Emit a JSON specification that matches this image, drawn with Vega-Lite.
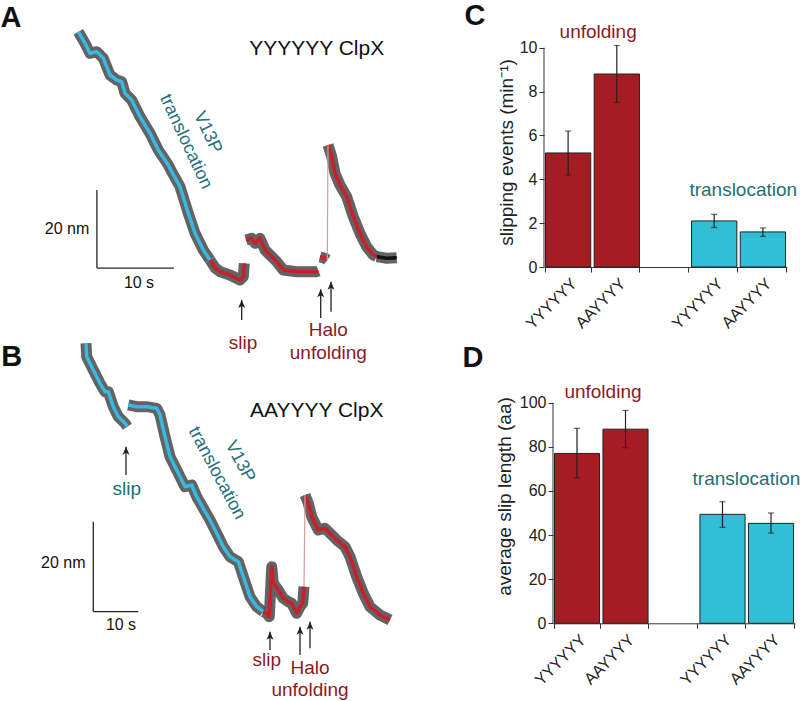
{
  "$schema": "https://vega.github.io/schema/vega-lite/v6.json",
  "padding": 0,
  "columns": 2,
  "spacing": {"row": 0, "column": 44},
  "bounds": "flush",
  "align": "all",
  "resolve": {"scale": {"color": "independent"}},
  "config": {
    "view": {"stroke": null},
    "font": "Liberation Sans",
    "axis": {"labelColor": "#222", "tickColor": "#333", "domainColor": "#333", "titleColor": "#222", "titleFontWeight": "normal", "grid": false}
  },
  "datasets": {
    "traceA": [
      {"t":10.18,"nm":78.89,"seg":"a1","phase":"translocation"},{"t":11.05,"nm":75.92,"seg":"a1","phase":"translocation"},{"t":11.70,"nm":73.36,"seg":"a1","phase":"translocation"},{"t":12.57,"nm":73.77,"seg":"a1","phase":"translocation"},{"t":13.43,"nm":72.08,"seg":"a1","phase":"translocation"},{"t":14.30,"nm":67.81,"seg":"a1","phase":"translocation"},{"t":15.17,"nm":66.53,"seg":"a1","phase":"translocation"},{"t":15.82,"nm":66.10,"seg":"a1","phase":"translocation"},{"t":16.25,"nm":63.13,"seg":"a1","phase":"translocation"},{"t":17.12,"nm":61.41,"seg":"a1","phase":"translocation"},{"t":18.20,"nm":57.14,"seg":"a1","phase":"translocation"},{"t":19.50,"nm":52.89,"seg":"a1","phase":"translocation"},{"t":20.58,"nm":48.62,"seg":"a1","phase":"translocation"},{"t":21.88,"nm":44.78,"seg":"a1","phase":"translocation"},{"t":22.32,"nm":43.07,"seg":"a1","phase":"translocation"},{"t":23.40,"nm":39.23,"seg":"a1","phase":"translocation"},{"t":24.48,"nm":32.42,"seg":"a1","phase":"translocation"},{"t":25.35,"nm":27.30,"seg":"a1","phase":"translocation"},{"t":26.43,"nm":23.03,"seg":"a1","phase":"translocation"},{"t":27.30,"nm":20.47,"seg":"a1","phase":"translocation"},
      {"t":27.30,"nm":20.47,"seg":"a2","phase":"unfolding"},{"t":28.00,"nm":18.40,"seg":"a2","phase":"unfolding"},{"t":28.60,"nm":17.48,"seg":"a2","phase":"unfolding"},{"t":29.90,"nm":16.63,"seg":"a2","phase":"unfolding"},{"t":31.20,"nm":15.35,"seg":"a2","phase":"unfolding"},{"t":31.63,"nm":16.20,"seg":"a2","phase":"unfolding"},{"t":31.76,"nm":19.63,"seg":"a2","phase":"unfolding"},
      {"t":31.98,"nm":25.59,"seg":"a3","phase":"unfolding"},{"t":32.72,"nm":26.02,"seg":"a3","phase":"unfolding"},{"t":33.15,"nm":24.74,"seg":"a3","phase":"unfolding"},{"t":33.80,"nm":26.02,"seg":"a3","phase":"unfolding"},{"t":34.45,"nm":23.03,"seg":"a3","phase":"unfolding"},{"t":35.10,"nm":21.75,"seg":"a3","phase":"unfolding"},{"t":35.97,"nm":20.04,"seg":"a3","phase":"unfolding"},{"t":36.83,"nm":17.91,"seg":"a3","phase":"unfolding"},{"t":38.57,"nm":17.48,"seg":"a3","phase":"unfolding"},{"t":41.17,"nm":17.48,"seg":"a3","phase":"unfolding"},{"t":41.40,"nm":17.66,"seg":"a3","phase":"unfolding"},
      {"t":41.60,"nm":21.24,"seg":"a4","phase":"unfolding"},{"t":42.25,"nm":20.91,"seg":"a4","phase":"unfolding"},{"t":42.55,"nm":20.47,"seg":"a4","phase":"unfolding"},
      {"t":42.64,"nm":49.90,"seg":"a5","phase":"unfolding"},{"t":43.12,"nm":46.90,"seg":"a5","phase":"unfolding"},{"t":43.55,"nm":42.66,"seg":"a5","phase":"unfolding"},{"t":44.20,"nm":39.66,"seg":"a5","phase":"unfolding"},{"t":45.07,"nm":36.67,"seg":"a5","phase":"unfolding"},{"t":45.93,"nm":31.55,"seg":"a5","phase":"unfolding"},{"t":46.80,"nm":27.30,"seg":"a5","phase":"unfolding"},{"t":47.67,"nm":23.87,"seg":"a5","phase":"unfolding"},{"t":48.53,"nm":21.75,"seg":"a5","phase":"unfolding"},{"t":48.97,"nm":21.32,"seg":"a5","phase":"unfolding"},
      {"t":48.97,"nm":21.32,"seg":"a6","phase":"released"},{"t":50.27,"nm":20.91,"seg":"a6","phase":"released"},{"t":51.57,"nm":21.06,"seg":"a6","phase":"released"}
    ],
    "jumpA": [{"t":42.55,"nm":20.47,"j":"ja"},{"t":42.64,"nm":49.90,"j":"ja"}],
    "annA": [
      {"label":"A","t":1.43,"nm":82.4,"role":"letter"},
      {"label":"YYYYYY ClpX","t":41.17,"nm":74.39,"role":"name"},
      {"label":"V13P","t":26.98,"nm":53.1,"role":"v13p"},
      {"label":"translocation","t":24.15,"nm":50.74,"role":"v13p"},
      {"label":"20 nm","t":8.71,"nm":28.4,"role":"scale"},
      {"label":"10 s","t":18.07,"nm":14.59,"role":"scale"},
      {"label":"slip","t":31.59,"nm":-0.77,"role":"event_u"},
      {"label":"Halo","t":42.68,"nm":2.56,"role":"event_u"},
      {"label":"unfolding","t":42.68,"nm":-3.4,"role":"event_u"}
    ],
    "arrowA": [{"t":31.42,"tip":10.24,"tail":5.12},{"t":41.69,"tip":12.97,"tail":5.63},{"t":43.03,"tip":14.92,"tail":7.24}],
    "barA": [{"t":12.6,"t2":12.6,"nm":18.4,"nm2":38.4},{"t":12.6,"t2":22.6,"nm":18.4,"nm2":18.4}],
    "traceB": [
      {"t":19.11,"nm":79.27,"seg":"b1","phase":"translocation"},{"t":19.27,"nm":76.29,"seg":"b1","phase":"translocation"},{"t":20.73,"nm":73.33,"seg":"b1","phase":"translocation"},{"t":22.22,"nm":70.38,"seg":"b1","phase":"translocation"},{"t":23.33,"nm":68.51,"seg":"b1","phase":"translocation"},{"t":24.07,"nm":68.51,"seg":"b1","phase":"translocation"},{"t":25.18,"nm":65.18,"seg":"b1","phase":"translocation"},{"t":26.29,"nm":62.96,"seg":"b1","phase":"translocation"},{"t":27.78,"nm":61.49,"seg":"b1","phase":"translocation"},{"t":28.29,"nm":60.73,"seg":"b1","phase":"translocation"},
      {"t":28.51,"nm":65.56,"seg":"b2","phase":"translocation"},{"t":30.38,"nm":65.18,"seg":"b2","phase":"translocation"},{"t":32.60,"nm":65.18,"seg":"b2","phase":"translocation"},{"t":34.82,"nm":64.82,"seg":"b2","phase":"translocation"},{"t":35.56,"nm":63.33,"seg":"b2","phase":"translocation"},{"t":36.67,"nm":58.51,"seg":"b2","phase":"translocation"},{"t":37.78,"nm":54.07,"seg":"b2","phase":"translocation"},{"t":39.27,"nm":51.11,"seg":"b2","phase":"translocation"},{"t":41.11,"nm":47.40,"seg":"b2","phase":"translocation"},{"t":42.60,"nm":47.78,"seg":"b2","phase":"translocation"},{"t":43.71,"nm":45.18,"seg":"b2","phase":"translocation"},{"t":45.18,"nm":42.60,"seg":"b2","phase":"translocation"},{"t":46.67,"nm":40.00,"seg":"b2","phase":"translocation"},{"t":48.16,"nm":37.04,"seg":"b2","phase":"translocation"},{"t":49.62,"nm":34.07,"seg":"b2","phase":"translocation"},{"t":51.11,"nm":31.84,"seg":"b2","phase":"translocation"},{"t":52.96,"nm":30.73,"seg":"b2","phase":"translocation"},{"t":54.07,"nm":27.40,"seg":"b2","phase":"translocation"},{"t":55.56,"nm":22.96,"seg":"b2","phase":"translocation"},{"t":57.04,"nm":20.73,"seg":"b2","phase":"translocation"},{"t":58.51,"nm":19.62,"seg":"b2","phase":"translocation"},
      {"t":58.51,"nm":19.62,"seg":"b3","phase":"unfolding"},{"t":59.27,"nm":19.27,"seg":"b3","phase":"unfolding"},{"t":59.84,"nm":18.51,"seg":"b3","phase":"unfolding"},{"t":60.38,"nm":29.62,"seg":"b3","phase":"unfolding"},{"t":60.73,"nm":25.93,"seg":"b3","phase":"unfolding"},{"t":61.84,"nm":24.44,"seg":"b3","phase":"unfolding"},{"t":62.96,"nm":22.60,"seg":"b3","phase":"unfolding"},{"t":64.07,"nm":21.84,"seg":"b3","phase":"unfolding"},{"t":64.82,"nm":21.49,"seg":"b3","phase":"unfolding"},{"t":65.93,"nm":19.27,"seg":"b3","phase":"unfolding"},{"t":66.67,"nm":20.73,"seg":"b3","phase":"unfolding"},{"t":67.27,"nm":21.49,"seg":"b3","phase":"unfolding"},{"t":67.56,"nm":25.18,"seg":"b3","phase":"unfolding"},
      {"t":67.78,"nm":45.56,"seg":"b4","phase":"unfolding"},{"t":68.51,"nm":43.71,"seg":"b4","phase":"unfolding"},{"t":69.27,"nm":40.73,"seg":"b4","phase":"unfolding"},{"t":70.73,"nm":37.78,"seg":"b4","phase":"unfolding"},{"t":72.22,"nm":38.16,"seg":"b4","phase":"unfolding"},{"t":73.71,"nm":36.67,"seg":"b4","phase":"unfolding"},{"t":74.82,"nm":35.56,"seg":"b4","phase":"unfolding"},{"t":76.67,"nm":34.07,"seg":"b4","phase":"unfolding"},{"t":77.78,"nm":31.84,"seg":"b4","phase":"unfolding"},{"t":79.27,"nm":27.40,"seg":"b4","phase":"unfolding"},{"t":80.73,"nm":23.71,"seg":"b4","phase":"unfolding"},{"t":82.22,"nm":20.73,"seg":"b4","phase":"unfolding"},{"t":84.44,"nm":18.89,"seg":"b4","phase":"unfolding"},{"t":86.67,"nm":17.78,"seg":"b4","phase":"unfolding"}
    ],
    "jumpB": [{"t":67.56,"nm":25.18,"j":"jb"},{"t":67.78,"nm":45.56,"j":"jb"}],
    "annB": [
      {"label":"B","t":2.6,"nm":76.29,"role":"letter"},
      {"label":"AAYYYY ClpX","t":70.38,"nm":64.29,"role":"name"},
      {"label":"V13P","t":53.33,"nm":52.96,"role":"v13p"},
      {"label":"translocation","t":48.16,"nm":50.38,"role":"v13p"},
      {"label":"20 nm","t":14.07,"nm":30.38,"role":"scale"},
      {"label":"10 s","t":26.89,"nm":16.67,"role":"scale"},
      {"label":"slip","t":28.16,"nm":46.82,"role":"event_t"},
      {"label":"slip","t":59.27,"nm":8.89,"role":"event_u"},
      {"label":"Halo","t":68.89,"nm":7.04,"role":"event_u"},
      {"label":"unfolding","t":68.89,"nm":2.22,"role":"event_u"}
    ],
    "arrowB": [{"t":28,"tip":56.29,"tail":50.0},{"t":60,"tip":15.18,"tail":11.11},{"t":66.67,"tip":16.29,"tail":10},{"t":68.89,"tip":17.4,"tail":11.49}],
    "barB": [{"t":20.73,"t2":20.73,"nm":19.62,"nm2":39.62},{"t":20.73,"t2":30.73,"nm":19.62,"nm2":19.62}],
    "rateC": [
      {"cat":"YYYYYY|u","group":"unfolding","v":5.2,"lo":4.2,"hi":6.2},
      {"cat":"AAYYYY|u","group":"unfolding","v":8.8,"lo":7.5,"hi":10.1},
      {"cat":"YYYYYY|t","group":"translocation","v":2.1,"lo":1.8,"hi":2.4},
      {"cat":"AAYYYY|t","group":"translocation","v":1.6,"lo":1.4,"hi":1.78}
    ],
    "annC": [
      {"label":"C","cat":"YYYYYY|u","v":11.45,"role":"letter"},
      {"label":"unfolding","cat":"AAYYYY|u","v":10.72,"role":"unf"},
      {"label":"translocation","cat":"AAYYYY|t","v":3.51,"role":"tr"}
    ],
    "axisC": [{"lo":0,"hi":10}],
    "lenD": [
      {"cat":"YYYYYY|u","group":"unfolding","v":77,"lo":66,"hi":88.4},
      {"cat":"AAYYYY|u","group":"unfolding","v":88,"lo":79.6,"hi":96.5},
      {"cat":"YYYYYY|t","group":"translocation","v":49.4,"lo":43.5,"hi":55.1},
      {"cat":"AAYYYY|t","group":"translocation","v":45.3,"lo":40.9,"hi":50.0}
    ],
    "annD": [
      {"label":"D","cat":"YYYYYY|u","v":120.3,"role":"letter"},
      {"label":"unfolding","cat":"AAYYYY|u","v":105.0,"role":"unf"},
      {"label":"translocation","cat":"AAYYYY|t","v":65.3,"role":"tr"}
    ],
    "axisD": [{"lo":0,"hi":100}]
  },
  "concat": [
    {
      "width": 500, "height": 340,
      "layer": [
        {"data": {"name": "traceA"}, "mark": {"type": "line", "strokeWidth": 11, "color": "#525252", "opacity": 0.9, "strokeJoin": "round"},
         "encoding": {"x": {"field": "t", "type": "quantitative", "scale": {"domain": [0, 65], "nice": false, "zero": false}, "axis": null},
                      "y": {"field": "nm", "type": "quantitative", "scale": {"domain": [0, 87], "nice": false, "zero": false}, "axis": null},
                      "detail": {"field": "seg"}}},
        {"data": {"name": "traceA"}, "mark": {"type": "line", "strokeWidth": 3.5, "strokeJoin": "round"},
         "encoding": {"x": {"field": "t", "type": "quantitative"}, "y": {"field": "nm", "type": "quantitative"},
                      "color": {"field": "phase", "type": "nominal", "scale": {"domain": ["translocation", "unfolding", "released"], "range": ["#38b9e2", "#c8202b", "#111111"]}, "legend": null},
                      "detail": {"field": "seg"}}},
        {"data": {"name": "jumpA"}, "mark": {"type": "line", "strokeWidth": 1.2, "color": "#d49ca1"},
         "encoding": {"x": {"field": "t", "type": "quantitative"}, "y": {"field": "nm", "type": "quantitative"}, "detail": {"field": "j"}}},
        {"data": {"name": "barA"}, "mark": {"type": "rule", "color": "#222", "strokeWidth": 1.3},
         "encoding": {"x": {"field": "t", "type": "quantitative"}, "x2": {"field": "t2"}, "y": {"field": "nm", "type": "quantitative"}, "y2": {"field": "nm2"}}},
        {"data": {"name": "arrowA"}, "mark": {"type": "rule", "color": "#222", "strokeWidth": 1.3},
         "encoding": {"x": {"field": "t", "type": "quantitative"}, "y": {"field": "tail", "type": "quantitative"}, "y2": {"field": "tip"}}},
        {"data": {"name": "arrowA"}, "mark": {"type": "point", "shape": "M0,0L0.7,1.6L0,1.2L-0.7,1.6Z", "filled": true, "color": "#222", "opacity": 1, "size": 100, "strokeWidth": 0},
         "encoding": {"x": {"field": "t", "type": "quantitative"}, "y": {"field": "tip", "type": "quantitative"}}},
        {"data": {"name": "annA"}, "transform": [{"filter": "datum.role == 'letter'"}], "mark": {"type": "text", "fontSize": 29, "fontWeight": "bold", "color": "#111", "align": "center", "baseline": "middle"},
         "encoding": {"x": {"field": "t", "type": "quantitative"}, "y": {"field": "nm", "type": "quantitative"}, "text": {"field": "label"}}},
        {"data": {"name": "annA"}, "transform": [{"filter": "datum.role == 'name'"}], "mark": {"type": "text", "fontSize": 21, "color": "#111", "align": "center", "baseline": "middle"},
         "encoding": {"x": {"field": "t", "type": "quantitative"}, "y": {"field": "nm", "type": "quantitative"}, "text": {"field": "label"}}},
        {"data": {"name": "annA"}, "transform": [{"filter": "datum.role == 'v13p'"}], "mark": {"type": "text", "fontSize": 18, "color": "#1f6f7a", "align": "center", "baseline": "middle", "angle": 65},
         "encoding": {"x": {"field": "t", "type": "quantitative"}, "y": {"field": "nm", "type": "quantitative"}, "text": {"field": "label"}}},
        {"data": {"name": "annA"}, "transform": [{"filter": "datum.role == 'scale'"}], "mark": {"type": "text", "fontSize": 16, "color": "#111", "align": "center", "baseline": "middle"},
         "encoding": {"x": {"field": "t", "type": "quantitative"}, "y": {"field": "nm", "type": "quantitative"}, "text": {"field": "label"}}},
        {"data": {"name": "annA"}, "transform": [{"filter": "datum.role == 'event_u'"}], "mark": {"type": "text", "fontSize": 19, "color": "#8c1a1f", "align": "center", "baseline": "middle"},
         "encoding": {"x": {"field": "t", "type": "quantitative"}, "y": {"field": "nm", "type": "quantitative"}, "text": {"field": "label"}}}
      ]
    },
    {
      "width": 243, "height": 267,
      "layer": [
        {"data": {"name": "rateC"}, "mark": {"type": "bar", "stroke": "#222", "strokeWidth": 1},
         "encoding": {
           "x": {"field": "cat", "type": "nominal", "scale": {"domain": ["YYYYYY|u", "AAYYYY|u", "gap", "YYYYYY|t", "AAYYYY|t"], "paddingInner": 0.07, "paddingOuter": 0.03},
                 "axis": {"title": null, "labelAngle": -45, "labelFontSize": 16, "tickBand": "extent", "tickSize": 5, "labelPadding": 3, "labelExpr": "isString(datum.value) && datum.value != 'gap' ? split(datum.value, '|')[0] : ''"}},
           "y": {"field": "v", "type": "quantitative", "scale": {"domain": [0, 12.175], "nice": false},
                 "axis": {"values": [0, 2, 4, 6, 8, 10], "domain": false, "labelFontSize": 16, "tickSize": 5, "title": "slipping events (min⁻¹)", "titleFontSize": 19, "titleY": 152, "titlePadding": 3}},
           "color": {"field": "group", "type": "nominal", "scale": {"domain": ["unfolding", "translocation"], "range": ["#a51d23", "#30bfd6"]}, "legend": null}}},
        {"data": {"name": "rateC"}, "mark": {"type": "rule", "color": "#222", "strokeWidth": 1.2},
         "encoding": {"x": {"field": "cat", "type": "nominal"}, "y": {"field": "lo", "type": "quantitative"}, "y2": {"field": "hi"}}},
        {"data": {"name": "rateC"}, "mark": {"type": "tick", "color": "#222", "size": 6, "thickness": 1.2},
         "encoding": {"x": {"field": "cat", "type": "nominal"}, "y": {"field": "lo", "type": "quantitative"}}},
        {"data": {"name": "rateC"}, "mark": {"type": "tick", "color": "#222", "size": 6, "thickness": 1.2},
         "encoding": {"x": {"field": "cat", "type": "nominal"}, "y": {"field": "hi", "type": "quantitative"}}},
        {"data": {"name": "axisC"}, "mark": {"type": "rule", "color": "#333", "strokeWidth": 1},
         "encoding": {"x": {"datum": "YYYYYY|u", "type": "nominal", "bandPosition": -0.0323}, "y": {"field": "lo", "type": "quantitative"}, "y2": {"field": "hi"}}},
        {"data": {"name": "annC"}, "transform": [{"filter": "datum.role == 'letter'"}], "mark": {"type": "text", "fontSize": 29, "fontWeight": "bold", "color": "#111", "align": "center", "baseline": "middle", "dx": -69},
         "encoding": {"x": {"field": "cat", "type": "nominal", "bandPosition": -0.0323}, "y": {"field": "v", "type": "quantitative"}, "text": {"field": "label"}}},
        {"data": {"name": "annC"}, "transform": [{"filter": "datum.role == 'unf'"}], "mark": {"type": "text", "fontSize": 19, "color": "#8c1a1f", "align": "center", "baseline": "middle", "dx": 4},
         "encoding": {"x": {"field": "cat", "type": "nominal", "bandPosition": 0}, "y": {"field": "v", "type": "quantitative"}, "text": {"field": "label"}}},
        {"data": {"name": "annC"}, "transform": [{"filter": "datum.role == 'tr'"}], "mark": {"type": "text", "fontSize": 19, "color": "#1f6f72", "align": "center", "baseline": "middle", "dx": 3},
         "encoding": {"x": {"field": "cat", "type": "nominal", "bandPosition": 0}, "y": {"field": "v", "type": "quantitative"}, "text": {"field": "label"}}}
      ]
    },
    {
      "width": 500, "height": 340,
      "layer": [
        {"data": {"name": "traceB"}, "mark": {"type": "line", "strokeWidth": 11, "color": "#525252", "opacity": 0.9, "strokeJoin": "round"},
         "encoding": {"x": {"field": "t", "type": "quantitative", "scale": {"domain": [0, 111.11], "nice": false, "zero": false}, "axis": null},
                      "y": {"field": "nm", "type": "quantitative", "scale": {"domain": [4.444, 80], "nice": false, "zero": false}, "axis": null},
                      "detail": {"field": "seg"}}},
        {"data": {"name": "traceB"}, "mark": {"type": "line", "strokeWidth": 3.5, "strokeJoin": "round"},
         "encoding": {"x": {"field": "t", "type": "quantitative"}, "y": {"field": "nm", "type": "quantitative"},
                      "color": {"field": "phase", "type": "nominal", "scale": {"domain": ["translocation", "unfolding", "released"], "range": ["#38b9e2", "#c8202b", "#111111"]}, "legend": null},
                      "detail": {"field": "seg"}}},
        {"data": {"name": "jumpB"}, "mark": {"type": "line", "strokeWidth": 1.2, "color": "#d49ca1"},
         "encoding": {"x": {"field": "t", "type": "quantitative"}, "y": {"field": "nm", "type": "quantitative"}, "detail": {"field": "j"}}},
        {"data": {"name": "barB"}, "mark": {"type": "rule", "color": "#222", "strokeWidth": 1.3},
         "encoding": {"x": {"field": "t", "type": "quantitative"}, "x2": {"field": "t2"}, "y": {"field": "nm", "type": "quantitative"}, "y2": {"field": "nm2"}}},
        {"data": {"name": "arrowB"}, "mark": {"type": "rule", "color": "#222", "strokeWidth": 1.3},
         "encoding": {"x": {"field": "t", "type": "quantitative"}, "y": {"field": "tail", "type": "quantitative"}, "y2": {"field": "tip"}}},
        {"data": {"name": "arrowB"}, "mark": {"type": "point", "shape": "M0,0L0.7,1.6L0,1.2L-0.7,1.6Z", "filled": true, "color": "#222", "opacity": 1, "size": 100, "strokeWidth": 0},
         "encoding": {"x": {"field": "t", "type": "quantitative"}, "y": {"field": "tip", "type": "quantitative"}}},
        {"data": {"name": "annB"}, "transform": [{"filter": "datum.role == 'letter'"}], "mark": {"type": "text", "fontSize": 29, "fontWeight": "bold", "color": "#111", "align": "center", "baseline": "middle"},
         "encoding": {"x": {"field": "t", "type": "quantitative"}, "y": {"field": "nm", "type": "quantitative"}, "text": {"field": "label"}}},
        {"data": {"name": "annB"}, "transform": [{"filter": "datum.role == 'name'"}], "mark": {"type": "text", "fontSize": 21, "color": "#111", "align": "center", "baseline": "middle"},
         "encoding": {"x": {"field": "t", "type": "quantitative"}, "y": {"field": "nm", "type": "quantitative"}, "text": {"field": "label"}}},
        {"data": {"name": "annB"}, "transform": [{"filter": "datum.role == 'v13p'"}], "mark": {"type": "text", "fontSize": 18, "color": "#1f6f7a", "align": "center", "baseline": "middle", "angle": 62},
         "encoding": {"x": {"field": "t", "type": "quantitative"}, "y": {"field": "nm", "type": "quantitative"}, "text": {"field": "label"}}},
        {"data": {"name": "annB"}, "transform": [{"filter": "datum.role == 'scale'"}], "mark": {"type": "text", "fontSize": 16, "color": "#111", "align": "center", "baseline": "middle"},
         "encoding": {"x": {"field": "t", "type": "quantitative"}, "y": {"field": "nm", "type": "quantitative"}, "text": {"field": "label"}}},
        {"data": {"name": "annB"}, "transform": [{"filter": "datum.role == 'event_u'"}], "mark": {"type": "text", "fontSize": 19, "color": "#8c1a1f", "align": "center", "baseline": "middle"},
         "encoding": {"x": {"field": "t", "type": "quantitative"}, "y": {"field": "nm", "type": "quantitative"}, "text": {"field": "label"}}},
        {"data": {"name": "annB"}, "transform": [{"filter": "datum.role == 'event_t'"}], "mark": {"type": "text", "fontSize": 19, "color": "#1f6f72", "align": "center", "baseline": "middle"},
         "encoding": {"x": {"field": "t", "type": "quantitative"}, "y": {"field": "nm", "type": "quantitative"}, "text": {"field": "label"}}}
      ]
    },
    {
      "width": 251, "height": 283.3,
      "layer": [
        {"data": {"name": "lenD"}, "mark": {"type": "bar", "stroke": "#222", "strokeWidth": 1},
         "encoding": {
           "x": {"field": "cat", "type": "nominal", "scale": {"domain": ["YYYYYY|u", "AAYYYY|u", "gap", "YYYYYY|t", "AAYYYY|t"], "range": [9, 251], "paddingInner": 0.07, "paddingOuter": 0.03},
                 "axis": {"title": null, "labelAngle": -45, "labelFontSize": 16, "tickBand": "extent", "tickSize": 5, "labelPadding": 3, "labelExpr": "isString(datum.value) && datum.value != 'gap' ? split(datum.value, '|')[0] : ''"}},
           "y": {"field": "v", "type": "quantitative", "scale": {"domain": [0, 128.42], "nice": false},
                 "axis": {"values": [0, 20, 40, 60, 80, 100], "domain": false, "offset": -9, "labelFontSize": 16, "tickSize": 5, "title": "average slip length (aa)", "titleFontSize": 19, "titleY": 156, "titlePadding": 5}},
           "color": {"field": "group", "type": "nominal", "scale": {"domain": ["unfolding", "translocation"], "range": ["#a51d23", "#30bfd6"]}, "legend": null}}},
        {"data": {"name": "lenD"}, "mark": {"type": "rule", "color": "#222", "strokeWidth": 1.2},
         "encoding": {"x": {"field": "cat", "type": "nominal"}, "y": {"field": "lo", "type": "quantitative"}, "y2": {"field": "hi"}}},
        {"data": {"name": "lenD"}, "mark": {"type": "tick", "color": "#222", "size": 6, "thickness": 1.2},
         "encoding": {"x": {"field": "cat", "type": "nominal"}, "y": {"field": "lo", "type": "quantitative"}}},
        {"data": {"name": "lenD"}, "mark": {"type": "tick", "color": "#222", "size": 6, "thickness": 1.2},
         "encoding": {"x": {"field": "cat", "type": "nominal"}, "y": {"field": "hi", "type": "quantitative"}}},
        {"data": {"name": "axisD"}, "mark": {"type": "rule", "color": "#333", "strokeWidth": 1},
         "encoding": {"x": {"datum": "YYYYYY|u", "type": "nominal", "bandPosition": -0.0323}, "y": {"field": "lo", "type": "quantitative"}, "y2": {"field": "hi"}}},
        {"data": {"name": "annD"}, "transform": [{"filter": "datum.role == 'letter'"}], "mark": {"type": "text", "fontSize": 29, "fontWeight": "bold", "color": "#111", "align": "center", "baseline": "middle", "dx": -80},
         "encoding": {"x": {"field": "cat", "type": "nominal", "bandPosition": -0.0323}, "y": {"field": "v", "type": "quantitative"}, "text": {"field": "label"}}},
        {"data": {"name": "annD"}, "transform": [{"filter": "datum.role == 'unf'"}], "mark": {"type": "text", "fontSize": 19, "color": "#8c1a1f", "align": "center", "baseline": "middle"},
         "encoding": {"x": {"field": "cat", "type": "nominal", "bandPosition": 0}, "y": {"field": "v", "type": "quantitative"}, "text": {"field": "label"}}},
        {"data": {"name": "annD"}, "transform": [{"filter": "datum.role == 'tr'"}], "mark": {"type": "text", "fontSize": 19, "color": "#1f6f72", "align": "center", "baseline": "middle", "dx": -2},
         "encoding": {"x": {"field": "cat", "type": "nominal", "bandPosition": 0}, "y": {"field": "v", "type": "quantitative"}, "text": {"field": "label"}}}
      ]
    }
  ]
}
